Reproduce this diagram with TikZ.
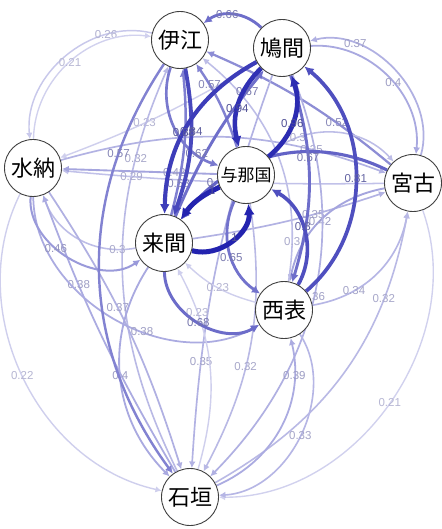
\documentclass[tikz,border=0pt]{standalone}
\usepackage{fontspec}
\setmainfont{Liberation Sans}
\newfontfamily\cjk{Noto Sans CJK JP}
\usetikzlibrary{arrows.meta,backgrounds}
\definecolor{ebase}{RGB}{35,35,175}
\definecolor{labc}{RGB}{80,80,150}
\tikzset{
  isl/.style={circle, draw=black!75, line width=0.9pt, fill=white, minimum size=57pt, inner sep=0pt, font=\cjk\fontsize{22}{22}\selectfont},
  elab/.style={font=\fontsize{11.5}{11.5}\selectfont, inner sep=0.5pt},
}
\newcommand\myedge[6]{%
  \pgfmathtruncatemacro\epct{min(100,100*#3)}%
  \pgfmathtruncatemacro\lpct{min(100,25+80*#3)}%
  \pgfmathsetmacro\elw{1.2+3.8*#3*#3}%
  \draw[line width=\elw pt, color=ebase!\epct!white, -{Latex[length=4.5pt 1.3, width=4.5pt 1.3]}] (#1) to[#4] node[pos=#5, elab, text=labc!\lpct!white]{#6} (#2);}
\begin{document}
\begin{tikzpicture}[x=1pt,y=-1pt]
\useasboundingbox (0,0) rectangle (441,529);
\node[isl] (IE) at (180,40) {伊江};
\node[isl] (HT) at (282,48) {鳩間};
\node[isl] (MN) at (33,168) {水納};
\node[isl, font=\cjk\fontsize{17}{17}\selectfont] (YN) at (246,175) {与那国};
\node[isl] (MY) at (413,183) {宮古};
\node[isl] (KR) at (164,243) {来間};
\node[isl] (IR) at (284,310) {西表};
\node[isl] (IS) at (190,497) {石垣};
\begin{pgfonlayer}{background}
\fill[white] (0,0) rectangle (441,529);
\myedge{MN}{IS}{0.22}{bend right=52}{0.5}{0.22}
\myedge{MY}{IS}{0.21}{bend left=55}{0.5}{0.21}
\myedge{IE}{MN}{0.26}{bend right=55}{0.25}{0.26}
\myedge{MN}{IE}{0.21}{bend left=48}{0.5}{0.21}
\myedge{MY}{HT}{0.37}{bend right=60}{0.75}{0.37}
\myedge{HT}{MY}{0.4}{bend left=50}{0.55}{0.4}
\myedge{HT}{MN}{0.23}{bend left=5}{0.59}{0.23}
\myedge{IS}{IE}{0.32}{bend left=25}{0.78}{0.32}
\myedge{MY}{IE}{0.52}{bend right=8}{0.3}{0.52}
\myedge{YN}{MY}{0.3}{bend left=45}{0.25}{0.3}
\myedge{MN}{MY}{0.35}{bend left=18}{0.78}{0.35}
\myedge{MY}{MN}{0.29}{bend left=3}{0.8}{0.29}
\myedge{YN}{MN}{0.42}{bend left=0}{0.26}{0.42}
\myedge{KR}{MY}{0.35}{bend right=5}{0.63}{0.35}
\myedge{MY}{IR}{0.42}{bend right=34}{0.52}{0.42}
\myedge{IR}{IE}{0.3}{bend right=30}{0.15}{0.3}
\myedge{HT}{IS}{0.36}{bend left=33}{0.52}{0.36}
\myedge{IR}{MY}{0.34}{bend right=35}{0.3}{0.34}
\myedge{IS}{MY}{0.32}{bend right=25}{0.75}{0.32}
\myedge{KR}{MN}{0.3}{bend left=40}{0.15}{0.3}
\myedge{IS}{MN}{0.38}{bend left=5}{0.7}{0.38}
\myedge{MN}{IS}{0.37}{bend left=8}{0.43}{0.37}
\myedge{MN}{IR}{0.38}{bend right=60}{0.6}{0.38}
\myedge{KR}{IS}{0.4}{bend right=39}{0.5}{0.4}
\myedge{HT}{IS}{0.35}{bend right=8}{0.75}{0.35}
\myedge{YN}{IS}{0.32}{bend left=18}{0.6}{0.32}
\myedge{IS}{IR}{0.39}{bend right=40}{0.8}{0.39}
\myedge{IR}{IS}{0.33}{bend left=60}{0.5}{0.33}
\myedge{IS}{KR}{0.23}{bend right=22}{0.78}{0.23}
\myedge{IR}{KR}{0.23}{bend left=14}{0.5}{0.23}
\myedge{MN}{KR}{0.46}{bend right=65}{0.4}{0.46}
\myedge{IE}{IS}{0.57}{bend right=35}{0.22}{0.57}
\myedge{YN}{IE}{0.57}{bend right=8}{0.75}{0.57}
\myedge{KR}{IE}{0.58}{bend right=10}{0.2}{0.58}
\myedge{MY}{KR}{0.71}{bend right=40}{0.78}{0.71}
\myedge{HT}{IR}{0.67}{bend left=17}{0.39}{0.67}
\myedge{KR}{HT}{0.67}{bend left=8}{0.86}{0.67}
\myedge{IE}{YN}{0.62}{bend right=45}{0.8}{0.62}
\myedge{YN}{IR}{0.65}{bend right=40}{0.55}{0.65}
\myedge{KR}{IR}{0.68}{bend right=60}{0.5}{0.68}
\myedge{HT}{IE}{0.66}{bend right=40}{0.6}{0.66}
\myedge{IR}{YN}{0.8}{bend right=45}{0.55}{0.8}
\myedge{IR}{HT}{0.81}{bend right=50}{0.5}{0.81}
\myedge{IE}{KR}{0.84}{bend left=15}{0.42}{0.84}
\myedge{HT}{KR}{0.88}{bend right=30}{0.55}{0.88}
\myedge{HT}{YN}{0.94}{bend right=30}{0.56}{0.94}
\myedge{YN}{HT}{0.96}{bend right=35}{0.45}{0.96}
\myedge{YN}{KR}{1}{bend right=15}{0.15}{1}
\myedge{KR}{YN}{1}{bend right=55}{0.55}{1}
\end{pgfonlayer}
\end{tikzpicture}
\end{document}
